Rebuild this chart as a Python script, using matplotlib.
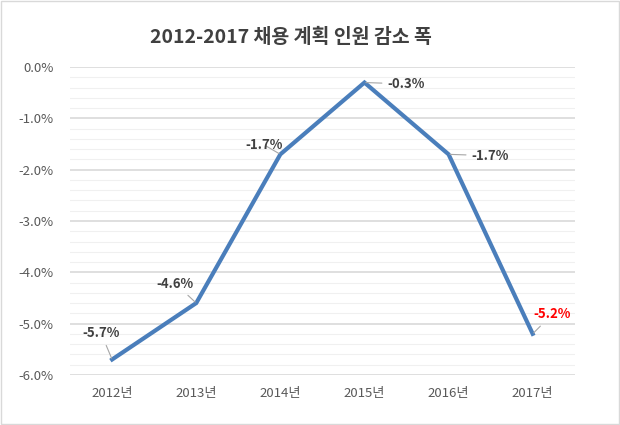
import matplotlib.pyplot as plt
from matplotlib.ticker import MultipleLocator, FuncFormatter

plt.rcParams['font.family'] = ['Noto Sans CJK KR', 'DejaVu Sans']

years = ['2012년', '2013년', '2014년', '2015년', '2016년', '2017년']
values = [-5.7, -4.6, -1.7, -0.3, -1.7, -5.2]
# label offsets (points) relative to each data point
offsets = [(-8, 19), (-15, 14), (-12, 7), (30, -1), (30, -1), (14, 14)]
label_colors = ['#404040'] * 5 + ['#ff0000']

fig = plt.figure(figsize=(6.2, 4.25), dpi=100)
ax = fig.add_axes([0.113, 0.118, 0.814, 0.724])

x = range(len(years))
ax.plot(x, values, color='#4a7ebb', lw=3, solid_joinstyle='miter', zorder=3)

for i, v in enumerate(values):
    ax.annotate(f'{v:.1f}%', xy=(i, v), xytext=offsets[i], textcoords='offset points',
                ha='center', va='center', fontsize=9.5, fontweight='bold',
                color=label_colors[i],
                arrowprops=dict(arrowstyle='-', color='#a6a6a6', lw=0.8,
                                shrinkA=2, shrinkB=1))

ax.set_xlim(-0.5, len(years) - 0.5)
ax.set_ylim(-6.0, 0.0)
ax.set_xticks(list(x))
ax.set_xticklabels(years)
ax.yaxis.set_major_locator(MultipleLocator(1.0))
ax.yaxis.set_minor_locator(MultipleLocator(0.2))
ax.yaxis.set_major_formatter(FuncFormatter(lambda v, p: f'{v:.1f}%' if abs(v) > 1e-9 else '0.0%'))
ax.grid(axis='y', which='major', color='#d9d9d9', lw=1.2)
ax.grid(axis='y', which='minor', color='#f0f0f0', lw=0.8)
ax.set_axisbelow(True)
for s in ax.spines.values():
    s.set_visible(False)
ax.tick_params(which='both', length=0, labelsize=9.5, colors='#595959')
ax.tick_params(axis='y', pad=12)
ax.tick_params(axis='x', pad=9)

fig.text(0.47, 0.913, '2012-2017 채용 계획 인원 감소 폭', ha='center', va='center',
         fontsize=14, fontweight='bold', color='#404040')

fig.patches.append(plt.Rectangle((0.002, 0.002), 0.996, 0.996, transform=fig.transFigure,
                                 fill=False, edgecolor='#d9d9d9', lw=1))

fig.savefig('out.png', dpi=100)
